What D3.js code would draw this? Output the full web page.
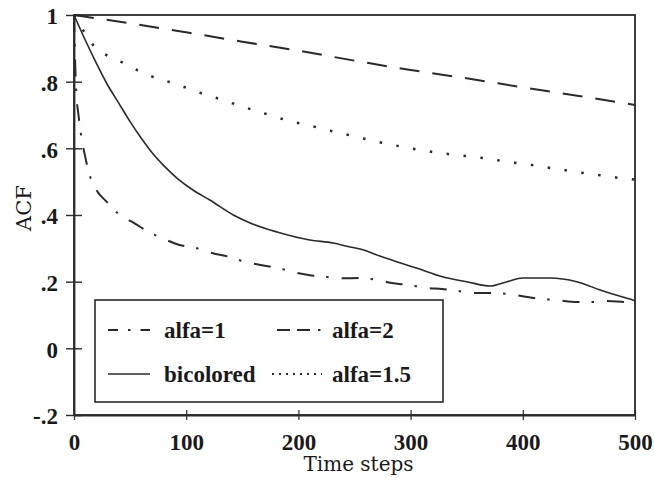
<!DOCTYPE html>
<html>
<head>
<meta charset="utf-8">
<script src="https://cdn.jsdelivr.net/npm/d3@7"></script>
<style>
  body { margin: 0; background: #fff; }
  svg { display: block; }
</style>
</head>
<body>
<svg id="chart" width="654" height="482"></svg>
<script>
// ---- data ----
const alfa1T = [0, 1, 2, 4, 7, 10, 13, 20, 29, 39, 54, 66, 79, 94, 110, 123, 139, 152, 166, 182, 195, 209, 225, 240, 255, 270, 283, 298, 315, 328, 342, 359, 372, 387, 404, 417, 430, 448, 462, 475, 493, 500];
const alfa1V = [1, 0.86, 0.77, 0.7, 0.625, 0.575, 0.53, 0.475, 0.44, 0.405, 0.375, 0.35, 0.33, 0.31, 0.3, 0.286, 0.274, 0.26, 0.25, 0.241, 0.229, 0.22, 0.214, 0.21, 0.211, 0.205, 0.196, 0.19, 0.181, 0.178, 0.172, 0.166, 0.166, 0.163, 0.154, 0.148, 0.145, 0.139, 0.139, 0.142, 0.139, 0.14];

const alfa2T = [0, 50, 100, 150, 200, 250, 300, 350, 400, 450, 500];
const alfa2V = [1, 0.975, 0.948, 0.92, 0.893, 0.863, 0.835, 0.81, 0.783, 0.757, 0.73];

const alfa15T = [0, 5, 10, 17, 32, 44, 59, 74, 88, 103, 118, 133, 148, 163, 177, 192, 208, 222, 237, 252, 300, 326, 341, 356, 371, 387, 402, 417, 433, 448, 463, 480, 494, 500];
const alfa15V = [1, 0.97, 0.945, 0.91, 0.874, 0.856, 0.83, 0.81, 0.796, 0.778, 0.76, 0.745, 0.727, 0.712, 0.697, 0.682, 0.67, 0.658, 0.646, 0.634, 0.6, 0.586, 0.58, 0.574, 0.568, 0.559, 0.553, 0.545, 0.537, 0.529, 0.522, 0.514, 0.508, 0.506];

const bicolT = [0, 10, 20, 30, 40, 50, 60, 70, 80, 92, 106, 121, 142, 157, 181, 210, 231, 246, 255, 275, 306, 329, 350, 371, 386, 400, 424, 448, 469, 498, 500];
const bicolV = [1, 0.925, 0.855, 0.79, 0.735, 0.68, 0.63, 0.585, 0.548, 0.51, 0.475, 0.445, 0.4, 0.376, 0.349, 0.325, 0.316, 0.304, 0.298, 0.274, 0.24, 0.214, 0.2, 0.187, 0.2, 0.211, 0.211, 0.2, 0.175, 0.145, 0.143];

const xTicks = [0, 100, 200, 300, 400, 500];
const xTickLabels = ["0", "100", "200", "300", "400", "500"];
const yTicks = [-0.2, 0, 0.2, 0.4, 0.6, 0.8, 1];
const yTickLabels = ["-.2", "0", ".2", ".4", ".6", ".8", "1"];

const seriesNames = ["alfa=1", "alfa=2", "bicolored", "alfa=1.5"];
const xLabel = "Time steps";
const yLabel = "ACF";

// ---- layout ----
const W = 654, H = 482;
const margin = { left: 74, top: 15, right: 19, bottom: 67 };
const iw = W - margin.left - margin.right;
const ih = H - margin.top - margin.bottom;
const ink = "#2a2a2a";
const tickFont = "'Liberation Serif', 'Times New Roman', serif";

const svg = d3.select("#chart");
const g = svg.append("g").attr("transform", `translate(${margin.left},${margin.top})`);

const x = d3.scaleLinear().domain([0, 500]).range([0, iw]);
const y = d3.scaleLinear().domain([-0.2, 1]).range([ih, 0]);

// frame
g.append("rect").attr("x", 0).attr("y", 0).attr("width", iw).attr("height", ih)
  .attr("fill", "none").attr("stroke", ink).attr("stroke-width", 1.8);

// axes
const xAxis = g.append("g").attr("transform", `translate(0,${ih})`)
  .call(d3.axisBottom(x).tickValues(xTicks).tickFormat((d, i) => xTickLabels[i]).tickSizeOuter(0));
xAxis.select(".domain").attr("stroke", ink).attr("stroke-width", 1.8);
xAxis.selectAll(".tick line").attr("y1", -5).attr("y2", 5).attr("stroke", ink).attr("stroke-width", 1.2);
xAxis.selectAll(".tick text").attr("y", 19).attr("dy", "0.71em")
  .attr("font-family", tickFont).attr("font-weight", "bold").attr("font-size", 23).attr("fill", "#1a1a1a");

const yAxis = g.append("g")
  .call(d3.axisLeft(y).tickValues(yTicks).tickFormat((d, i) => yTickLabels[i]).tickSizeOuter(0));
yAxis.select(".domain").attr("stroke", ink).attr("stroke-width", 1.8);
yAxis.selectAll(".tick line").attr("x1", -8).attr("x2", 8).attr("stroke", ink).attr("stroke-width", 1.4);
yAxis.selectAll(".tick text").attr("x", -16).attr("dy", "0.38em")
  .attr("font-family", tickFont).attr("font-weight", "bold").attr("font-size", 23).attr("fill", "#1a1a1a");

// axis titles
svg.append("text").attr("x", margin.left + iw / 2 + 4).attr("y", 471)
  .attr("text-anchor", "middle").attr("font-family", "'DejaVu Serif', serif").attr("font-size", 20)
  .attr("fill", "#1a1a1a").text(xLabel);
svg.append("text").attr("transform", "translate(31,208) rotate(-90)")
  .attr("text-anchor", "middle").attr("font-family", "'DejaVu Serif', serif").attr("font-size", 21)
  .attr("fill", "#1a1a1a").text(yLabel);

// lines
const line = d3.line().x(d => x(d[0])).y(d => y(d[1])).curve(d3.curveMonotoneX);
const zip = (a, b) => a.map((t, i) => [t, b[i]]);

const series = [
  { name: seriesNames[0], data: zip(alfa1T, alfa1V), dash: "17,12,2.5,13", width: 2 },
  { name: seriesNames[1], data: zip(alfa2T, alfa2V), dash: "20,13", width: 2 },
  { name: seriesNames[2], data: zip(bicolT, bicolV), dash: null, width: 1.6 },
  { name: seriesNames[3], data: zip(alfa15T, alfa15V), dash: "2.5,14.5", width: 2.5 }
];

g.append("g").selectAll("path").data(series).join("path")
  .attr("d", d => line(d.data))
  .attr("fill", "none").attr("stroke", ink)
  .attr("stroke-width", d => d.width)
  .attr("stroke-dasharray", d => d.dash);

// legend
const lg = svg.append("g");
lg.append("rect").attr("x", 95).attr("y", 300).attr("width", 348).attr("height", 102)
  .attr("fill", "#fff").attr("stroke", ink).attr("stroke-width", 1.6);

const legendItems = [
  { s: series[0], x0: 108, x1: 150, tx: 164, ty: 330, dash: "10,10,2.5,10,10" },
  { s: series[1], x0: 277, x1: 322, tx: 332, ty: 330, dash: "13,7,13,8,2.5" },
  { s: series[2], x0: 108, x1: 150, tx: 164, ty: 374, dash: null },
  { s: series[3], x0: 272, x1: 322, tx: 332, ty: 374, dash: "2,5" }
];
legendItems.forEach(it => {
  lg.append("line").attr("x1", it.x0).attr("x2", it.x1).attr("y1", it.ty).attr("y2", it.ty)
    .attr("stroke", ink).attr("stroke-width", it.s.width === 2.5 ? 2 : it.s.width)
    .attr("stroke-dasharray", it.dash);
  lg.append("text").attr("x", it.tx).attr("y", it.ty).attr("dy", "0.35em")
    .attr("font-family", tickFont).attr("font-weight", "bold").attr("font-size", 23)
    .attr("fill", "#1a1a1a").text(it.s.name);
});
</script>
</body>
</html>
